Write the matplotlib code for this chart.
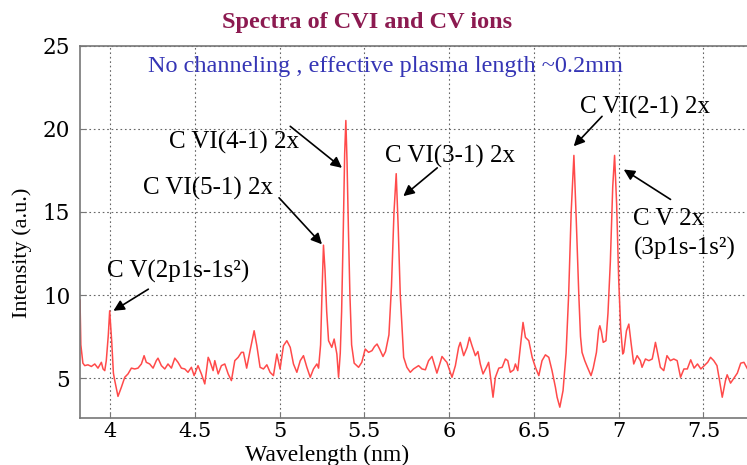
import matplotlib
matplotlib.use("Agg")
import matplotlib.pyplot as plt

wavelength = [
    3.823, 3.828, 3.840, 3.851, 3.870, 3.890, 3.910, 3.929, 3.949, 3.959, 3.969, 3.978, 3.990, 3.998,
    4.010, 4.020, 4.028, 4.047, 4.067, 4.087, 4.106, 4.126, 4.146, 4.165, 4.185, 4.201, 4.214, 4.234,
    4.254, 4.273, 4.283, 4.303, 4.323, 4.342, 4.362, 4.382, 4.401, 4.421, 4.441, 4.460, 4.480, 4.496,
    4.519, 4.539, 4.559, 4.579, 4.588, 4.608, 4.618, 4.638, 4.657, 4.677, 4.697, 4.716, 4.736, 4.756,
    4.775, 4.787, 4.806, 4.826, 4.850, 4.866, 4.885, 4.905, 4.925, 4.944, 4.964, 4.984, 5.003, 5.023,
    5.043, 5.063, 5.082, 5.102, 5.122, 5.141, 5.161, 5.181, 5.200, 5.220, 5.230, 5.242, 5.250, 5.259,
    5.268, 5.278, 5.289, 5.308, 5.322, 5.338, 5.348, 5.358, 5.366, 5.376, 5.384, 5.391, 5.398, 5.406,
    5.415, 5.425, 5.440, 5.466, 5.485, 5.505, 5.525, 5.545, 5.560, 5.575, 5.590, 5.610, 5.625, 5.645,
    5.660, 5.675, 5.688, 5.700, 5.712, 5.732, 5.751, 5.771, 5.790, 5.820, 5.840, 5.860, 5.879, 5.899,
    5.909, 5.928, 5.948, 5.958, 5.978, 5.987, 6.017, 6.037, 6.056, 6.066, 6.086, 6.106, 6.120, 6.135,
    6.155, 6.170, 6.184, 6.200, 6.220, 6.233, 6.247, 6.259, 6.273, 6.293, 6.313, 6.332, 6.346, 6.361,
    6.381, 6.391, 6.405, 6.420, 6.436, 6.450, 6.470, 6.490, 6.509, 6.529, 6.548, 6.568, 6.588, 6.607,
    6.627, 6.637, 6.653, 6.672, 6.690, 6.705, 6.720, 6.736, 6.750, 6.765, 6.775, 6.784, 6.800, 6.816,
    6.837, 6.850, 6.869, 6.882, 6.889, 6.898, 6.909, 6.925, 6.937, 6.951, 6.965, 6.976, 6.988, 7.000,
    7.012, 7.024, 7.030, 7.046, 7.060, 7.074, 7.089, 7.109, 7.128, 7.138, 7.158, 7.178, 7.198, 7.207,
    7.217, 7.227, 7.246, 7.266, 7.285, 7.305, 7.325, 7.345, 7.365, 7.385, 7.405, 7.425, 7.445, 7.465,
    7.485, 7.505, 7.525, 7.542, 7.561, 7.580, 7.595, 7.611, 7.630, 7.640, 7.660, 7.680, 7.700, 7.720,
    7.739, 7.760,
]
intensity = [
    9.70, 7.00, 5.90, 5.75, 5.80, 5.70, 5.85, 5.60, 5.95, 5.55, 5.45, 6.05, 7.60, 9.05,
    7.20, 5.30, 4.85, 3.90, 4.45, 5.05, 5.25, 5.60, 5.55, 5.60, 5.85, 6.35, 5.95, 5.85,
    5.60, 6.05, 6.20, 5.75, 5.55, 5.85, 5.60, 6.20, 5.95, 5.60, 5.55, 5.35, 5.65, 5.15,
    5.75, 5.25, 4.65, 6.25, 6.05, 5.45, 6.05, 5.25, 5.75, 5.85, 5.25, 4.85, 6.05, 6.25,
    6.55, 6.55, 5.60, 6.65, 7.85, 6.95, 5.65, 5.55, 5.80, 5.35, 5.15, 6.45, 5.55, 6.95,
    7.25, 6.85, 5.85, 5.35, 6.05, 6.35, 5.65, 5.05, 5.55, 5.85, 5.60, 7.00, 10.00, 13.00,
    11.50, 9.00, 7.25, 6.85, 7.35, 6.45, 5.05, 6.50, 9.00, 14.00, 18.50, 20.50, 18.00, 14.00,
    10.00, 7.00, 5.90, 5.65, 5.95, 6.75, 6.55, 6.65, 6.90, 7.05, 6.75, 6.30, 6.60, 7.60,
    10.50, 15.00, 17.30, 14.00, 10.00, 6.25, 5.65, 5.35, 5.55, 5.75, 5.55, 5.50, 6.05, 6.30,
    5.95, 5.30, 5.95, 6.30, 6.05, 5.95, 5.05, 5.75, 6.85, 7.15, 6.35, 6.85, 7.45, 6.95,
    6.35, 6.60, 5.85, 5.25, 5.65, 5.95, 4.85, 3.85, 5.05, 5.60, 5.65, 6.15, 6.05, 5.35,
    5.50, 5.85, 5.45, 6.85, 8.35, 7.45, 7.25, 6.25, 5.65, 5.15, 6.05, 6.40, 6.25, 5.45,
    4.45, 3.85, 3.25, 4.25, 6.50, 10.00, 15.00, 18.40, 14.50, 10.00, 7.50, 6.55, 6.05, 5.65,
    5.15, 5.60, 6.55, 7.90, 8.15, 7.80, 7.15, 7.25, 8.90, 12.00, 16.50, 18.40, 15.50, 11.00,
    8.00, 6.45, 6.55, 7.85, 8.25, 7.05, 5.85, 6.35, 6.05, 5.65, 6.15, 6.05, 6.15, 6.60,
    7.15, 6.65, 5.65, 5.45, 6.35, 6.05, 6.15, 6.05, 5.05, 5.55, 5.55, 6.10, 5.60, 5.85,
    5.55, 5.75, 5.95, 6.25, 6.05, 5.75, 4.85, 3.85, 4.85, 5.20, 4.70, 5.00, 5.30, 5.90,
    5.95, 5.55,
]
x_ticks = [4, 4.5, 5, 5.5, 6, 6.5, 7, 7.5]
x_tick_labels = ["4", "4.5", "5", "5.5", "6", "6.5", "7", "7.5"]
y_ticks = [5, 10, 15, 20, 25]
y_tick_labels = ["5", "10", "15", "20", "25"]

title = "Spectra of CVI and CV ions"
subtitle = "No channeling , effective plasma length ~0.2mm"
x_label = "Wavelength (nm)"
y_label = "Intensity (a.u.)"

plt.rcParams["font.family"] = ["Liberation Serif", "DejaVu Serif"]

fig = plt.figure(figsize=(7.47, 4.65), dpi=100)
ax = fig.add_axes([0.1071, 0.1011, 0.8929, 0.8006])

ax.plot(wavelength, intensity, color="#ff4a4a", lw=1.1)

ax.set_xlim(3.823, 7.757)
ax.set_ylim(2.6, 25)
ax.set_xticks(x_ticks)
ax.set_xticklabels(x_tick_labels, fontsize=15, family="DejaVu Serif")
ax.set_yticks(y_ticks)
ax.set_yticklabels(y_tick_labels, fontsize=15.5, family="DejaVu Serif")
ax.tick_params(direction="in", length=4, color="#777777")
ax.tick_params(axis="x", pad=3)
ax.tick_params(axis="y", pad=7)
ax.grid(True, linestyle=(0, (1.5, 2.5)), color="#666666", lw=0.8)
for s in ["left", "bottom", "top"]:
    ax.spines[s].set_color("#777777")
    ax.spines[s].set_linewidth(1.2)
ax.spines["right"].set_visible(False)

ax.set_xlabel(x_label, fontsize=17, va="top")
ax.xaxis.set_label_coords(0.370, -0.073)
ax.set_ylabel(y_label, fontsize=16, va="center")
ax.yaxis.set_label_coords(-0.087, 0.443)

fig.text(0.491, 0.951, title, ha="center", va="center", fontsize=17.5,
         fontweight="bold", color="#8c1a50")
ax.text(5.623, 23.76, subtitle, ha="center", va="center", fontsize=17.5,
        color="#3535b5")

arrow = dict(arrowstyle="-|>", color="black", lw=1.2, mutation_scale=16,
             shrinkA=0, shrinkB=0)
fs = 18
ax.text(4.40, 11.4, "C V(2p1s-1s²)", ha="center", va="center", fontsize=fs)
ax.annotate("", xy=(4.02, 9.05), xytext=(4.226, 10.35), arrowprops=arrow)

ax.text(4.58, 16.4, "C VI(5-1) 2x", ha="center", va="center", fontsize=fs)
ax.annotate("", xy=(5.25, 13.05), xytext=(4.997, 15.85), arrowprops=arrow)

ax.text(4.73, 19.2, "C VI(4-1) 2x", ha="center", va="center", fontsize=fs)
ax.annotate("", xy=(5.368, 17.65), xytext=(5.063, 20.15), arrowprops=arrow)

ax.text(6.007, 18.35, "C VI(3-1) 2x", ha="center", va="center", fontsize=fs)
ax.annotate("", xy=(5.73, 15.95), xytext=(5.93, 17.65), arrowprops=arrow)

ax.text(7.158, 21.3, "C VI(2-1) 2x", ha="center", va="center", fontsize=fs)
ax.annotate("", xy=(6.735, 18.95), xytext=(6.902, 20.75), arrowprops=arrow)

ax.text(7.087, 14.6, "C V 2x", ha="left", va="center", fontsize=fs)
ax.text(7.087, 12.8, "(3p1s-1s²)", ha="left", va="center", fontsize=fs)
ax.annotate("", xy=(7.03, 17.55), xytext=(7.306, 15.75), arrowprops=arrow)

fig.savefig("out.png", dpi=100, facecolor="white")
